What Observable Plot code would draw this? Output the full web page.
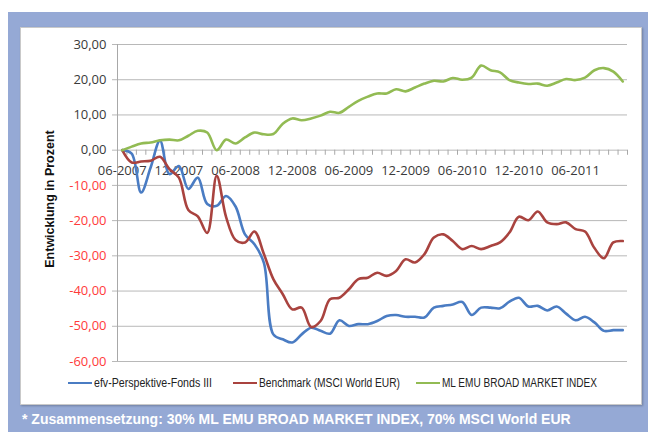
<!DOCTYPE html>
<html>
<head>
<meta charset="utf-8">
<script src="https://cdn.jsdelivr.net/npm/d3@7"></script>
<script src="https://cdn.jsdelivr.net/npm/@observablehq/plot@0.6"></script>
<style>
  html, body { margin: 0; padding: 0; background: #ffffff; }
  #page { position: relative; width: 648px; height: 432px; overflow: hidden; font-family: "Open Sans", sans-serif; }
  #blue { position: absolute; left: 8px; top: 12px; width: 640px; height: 420px; background: #95a9d5; }
  #panel { position: absolute; left: 20px; top: 27px; width: 620px; height: 376px; background: #fff; border: 1px solid #c9c9c9; box-shadow: 1px 1px 2px rgba(0,0,0,0.25); }
  #chart { position: absolute; left: 0; top: 0; }
  #legend { position: absolute; top: 376px; left: 0; width: 648px; height: 18px; font-family: "Liberation Sans", sans-serif; font-size: 12.5px; color: #222; }
  .item { position: absolute; top: 0; display: flex; align-items: center; white-space: nowrap; }
  .swatch { display: inline-block; width: 24px; height: 2.5px; margin-right: 2px; }
  .lbl { display: inline-block; transform-origin: left center; }
  #caption { position: absolute; left: 22px; top: 411px; color: #fff; font-family: "Liberation Sans", sans-serif; font-weight: bold; font-size: 14px; white-space: nowrap; }
</style>
</head>
<body>
<div id="page">
  <div id="blue"></div>
  <div id="panel"></div>
  <div id="chart"></div>
  <div id="legend"></div>
  <div id="caption">* Zusammensetzung: 30% ML EMU BROAD MARKET INDEX, 70% MSCI World EUR</div>
</div>
<script>
// ---- data (monthly, 06-2007 .. 11-2011) ----
const seriesNames = ["efv-Perspektive-Fonds III", "Benchmark (MSCI World EUR)", "ML EMU BROAD MARKET INDEX"];
const seriesColors = ["#4a7cc3", "#a9433f", "#92bb53"];

const fonds = [0, -1, -12, -5, 2.7, -6.8, -4.5, -11, -7.8, -15.3, -15.8, -13, -16, -23.9, -26.7, -32,
  -52.3, -53.7, -54.6, -52.3, -50.4, -51.3, -52.1, -48.3, -49.9, -49.4, -49.4, -48.5, -47.1, -46.8,
  -47.3, -47.3, -47.5, -44.7, -44.2, -43.8, -43.1, -46.8, -44.7, -44.7, -44.9, -43.0, -41.9, -44.4,
  -44.2, -45.5, -44.4, -46.4, -48.3, -47.3, -48.9, -51.3, -51.1, -51.1];

const benchmark = [0, -3.5, -3.2, -3.0, -1.9, -5.4, -7.8, -17, -18.8, -23.5, -7.3, -19, -25.5, -26.2,
  -23.1, -29.5, -36.6, -40.9, -45.2, -44.7, -50.2, -48.5, -42.3, -41.9, -39.5, -36.6, -36.2, -34.8,
  -35.7, -34.3, -31, -31.9, -29.5, -24.8, -23.9, -25.8, -28.1, -27.2, -28.1, -27.2, -26.2, -23.4,
  -18.9, -19.9, -17.4, -20.5, -21.0, -20.5, -22.4, -23.1, -27.8, -30.7, -26.2, -25.8];

const mlEmu = [0, 1, 1.9, 2.2, 2.8, 3.0, 2.8, 4.1, 5.5, 5.0, 0, 3.0, 1.9, 3.6, 5.0, 4.5, 4.6, 7.5, 9.0,
  8.5, 9.0, 9.8, 10.9, 10.6, 12.3, 14.0, 15.2, 16.1, 16.1, 17.3, 16.7, 17.8, 18.9, 19.7, 19.5, 20.5,
  20.0, 20.6, 24.0, 22.7, 22.1, 19.9, 19.2, 18.8, 18.9, 18.3, 19.2, 20.2, 19.9, 20.6, 22.7, 23.3,
  22.3, 19.5];

const xTickLabels = ["06-2007", "12-2007", "06-2008", "12-2008", "06-2009", "12-2009", "06-2010", "12-2010", "06-2011"];
const xTickStep = 6;
const yTicks = [30, 20, 10, 0, -10, -20, -30, -40, -50, -60];

// ---- build table ----
const table = [];
[fonds, benchmark, mlEmu].forEach((arr, s) => arr.forEach((v, i) => table.push({m: i, v, series: seriesNames[s]})));
const nCat = fonds.length;
const boundaries = d3.range(nCat + 1).map(i => i - 0.5);
const xLabelData = xTickLabels.map((t, i) => ({m: i * xTickStep, t}));
const fmt = v => v.toFixed(2).replace(".", ",");

const chart = Plot.plot({
  width: 648,
  height: 432,
  marginLeft: 117,
  marginRight: 21,
  marginTop: 44,
  marginBottom: 71,
  style: {background: "transparent", fontFamily: "Open Sans, sans-serif"},
  x: {type: "linear", domain: [-0.5, nCat - 0.5], axis: null},
  y: {type: "linear", domain: [-60, 30], axis: null},
  color: {domain: seriesNames, range: seriesColors},
  marks: [
    Plot.ruleY(yTicks, {y: d => d, stroke: "#b8b8b8", strokeWidth: 1, insetLeft: -5}),
    Plot.ruleX([-0.5], {x: d => d, stroke: "#a8a8a8", strokeWidth: 1}),
    Plot.ruleX(boundaries, {x: d => d, y1: 0, y2: -1.45, stroke: "#a8a8a8", strokeWidth: 1}),
    Plot.text(yTicks, {x: -0.5, y: d => d, text: fmt, textAnchor: "end", dx: -11, fontSize: 13,
      fill: d => d < 0 ? "#ff3b3b" : "#3a3a3a"}),
    Plot.text(xLabelData, {x: "m", y: 0, text: "t", dy: 21, fontSize: 13, fill: "#3a3a3a"}),
    Plot.text(["Entwicklung in Prozent"], {frameAnchor: "left", textAnchor: "middle", dx: -68, dy: -4, rotate: -90,
      fontWeight: "bold", fontSize: 12.5, fill: "#111", fontFamily: "Liberation Sans, sans-serif"}),
    Plot.line(table, {x: "m", y: "v", stroke: "series", z: "series", curve: "catmull-rom", strokeWidth: 2.6})
  ]
});
document.getElementById("chart").appendChild(chart);

// ---- legend ----
const legendPos = [68, 233, 416];
const legendTextWidth = [118, 141, 155];
const legend = document.getElementById("legend");
seriesNames.forEach((name, i) => {
  const it = document.createElement("div");
  it.className = "item";
  it.style.left = legendPos[i] + "px";
  it.innerHTML = `<span class="swatch" style="background:${seriesColors[i]}"></span><span class="lbl">${name}</span>`;
  legend.appendChild(it);
  const lbl = it.querySelector(".lbl");
  const w = lbl.getBoundingClientRect().width;
  lbl.style.transform = `scaleX(${legendTextWidth[i] / w})`;
});
</script>
</body>
</html>
